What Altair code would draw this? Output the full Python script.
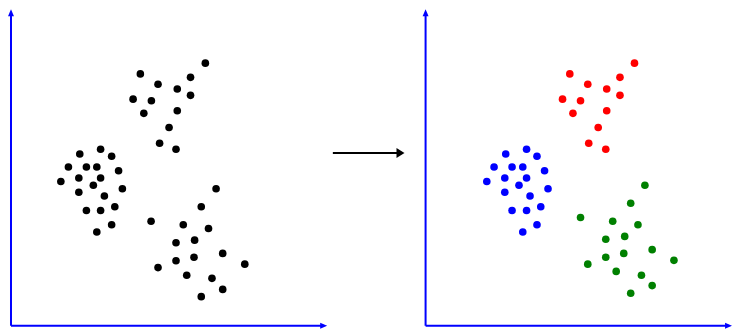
import altair as alt
import pandas as pd

# ---- values (units: axis origin = 0, axis length ~ 100) ----
# Left panel: unlabelled points, three visual groups
left_a_x = [61.6, 41.0, 56.9, 46.6, 52.7, 56.9, 38.7, 44.5, 42.1, 52.7, 50.1, 47.1, 52.3]
left_a_y = [83.2, 79.8, 78.7, 76.5, 75.0, 73.0, 71.8, 71.3, 67.3, 68.1, 62.8, 57.8, 55.9]
left_b_x = [21.8, 28.4, 31.9, 18.2, 23.9, 27.2, 34.1, 15.8, 21.5, 28.4, 26.1, 35.3, 21.5,
            29.6, 23.9, 28.4, 32.9, 31.9, 27.2]
left_b_y = [54.4, 55.9, 53.7, 50.3, 50.3, 50.3, 49.1, 45.7, 46.8, 46.8, 44.5, 43.4, 42.3,
            41.1, 36.5, 36.5, 37.7, 32.0, 29.7]
left_c_x = [65.0, 60.3, 44.4, 54.6, 62.6, 52.3, 58.2, 67.1, 52.3, 58.0, 74.1, 46.6, 55.7,
            63.7, 67.1, 60.3]
left_c_y = [43.4, 37.7, 33.1, 32.0, 30.8, 26.3, 27.1, 22.9, 20.6, 21.7, 19.5, 18.4, 16.0,
            15.0, 11.5, 9.2]

# Right panel: clustered points
red_x = [66.2, 45.7, 61.6, 51.4, 57.4, 61.6, 43.4, 49.1, 46.7, 57.4, 54.7, 51.7, 57.1]
red_y = [83.2, 79.8, 78.7, 76.5, 75.0, 73.0, 71.8, 71.3, 67.3, 68.1, 62.8, 57.8, 55.9]
blue_x = [25.4, 32.0, 35.3, 21.7, 27.4, 30.8, 37.7, 19.4, 25.1, 32.0, 29.6, 38.8, 25.1,
          33.1, 27.4, 32.0, 36.5, 35.3, 30.8]
blue_y = [54.4, 55.9, 53.7, 50.3, 50.3, 50.3, 49.1, 45.7, 46.8, 46.8, 44.5, 43.4, 42.3,
          41.1, 36.5, 36.5, 37.7, 32.0, 29.7]
green_x = [69.5, 65.0, 49.1, 59.3, 67.3, 57.1, 63.1, 71.8, 57.1, 62.8, 78.7, 51.4, 60.4,
           68.4, 71.8, 65.0]
green_y = [44.5, 38.8, 34.3, 33.1, 32.0, 27.4, 28.3, 24.1, 21.7, 22.9, 20.7, 19.5, 17.2,
           16.0, 12.7, 10.3]

cluster_names = ["red", "blue", "green"]
cluster_colors = ["#ff0000", "#0000ff", "#008000"]

AXIS = "#0000ff"
Y_DOM = [-1.3, 100.3]
UP = "M0,-1L0.85,1L-0.85,1Z"
RIGHT = "M1,0L-1,-0.85L-1,0.85Z"

left_df = pd.DataFrame({
    "x": left_a_x + left_b_x + left_c_x,
    "y": left_a_y + left_b_y + left_c_y,
})
right_df = pd.DataFrame({
    "x": red_x + blue_x + green_x,
    "y": red_y + blue_y + green_y,
    "group": ["red"] * len(red_x) + ["blue"] * len(blue_x) + ["green"] * len(green_x),
})
one = pd.DataFrame({"k": [0]})


def panel(df, x_dom, width, x_head, colour):
    xs = alt.Scale(domain=x_dom, nice=False, zero=False)
    ys = alt.Scale(domain=Y_DOM, nice=False, zero=False)
    pts = alt.Chart(df).mark_circle(size=58, opacity=1).encode(
        x=alt.X("x:Q", scale=xs, axis=None),
        y=alt.Y("y:Q", scale=ys, axis=None),
        color=colour,
    )
    x_axis = alt.Chart(one).mark_rule(color=AXIS, strokeWidth=2).encode(
        x=alt.XDatum(0, scale=xs, axis=None),
        x2=alt.X2Datum(x_head),
        y=alt.YDatum(0, scale=ys, axis=None),
    )
    y_axis = alt.Chart(one).mark_rule(color=AXIS, strokeWidth=2).encode(
        x=alt.XDatum(0, scale=xs, axis=None),
        y=alt.YDatum(0, scale=ys, axis=None),
        y2=alt.Y2Datum(99.2),
    )
    x_head_m = alt.Chart(one).mark_point(shape=RIGHT, filled=True, size=49, color=AXIS,
                                         opacity=1, strokeWidth=0).encode(
        x=alt.XDatum(x_head, scale=xs, axis=None),
        y=alt.YDatum(0, scale=ys, axis=None),
    )
    y_head_m = alt.Chart(one).mark_point(shape=UP, filled=True, size=49, color=AXIS,
                                         opacity=1, strokeWidth=0).encode(
        x=alt.XDatum(0, scale=xs, axis=None),
        y=alt.YDatum(99.2, scale=ys, axis=None),
    )
    return alt.layer(x_axis, y_axis, x_head_m, y_head_m, pts).properties(width=width, height=321)


left = panel(left_df, [-0.95, 100.65], 321, 99.1, alt.value("black"))
right = panel(
    right_df, [-1.0, 97.1], 310, 96.0,
    alt.Color("group:N", scale=alt.Scale(domain=cluster_names, range=cluster_colors), legend=None),
)

# middle arrow
mxs = alt.Scale(domain=[0, 29.75], nice=False, zero=False)
mys = alt.Scale(domain=Y_DOM, nice=False, zero=False)
m_line = alt.Chart(one).mark_rule(color="black", strokeWidth=2).encode(
    x=alt.XDatum(1.36, scale=mxs, axis=None),
    x2=alt.X2Datum(22.15),
    y=alt.YDatum(54.7, scale=mys, axis=None),
)
m_head = alt.Chart(one).mark_point(shape="M0.8,0L-0.8,-1L-0.8,1Z", filled=True, size=100,
                                   color="black", opacity=1, strokeWidth=0).encode(
    x=alt.XDatum(22.8, scale=mxs, axis=None),
    y=alt.YDatum(54.7, scale=mys, axis=None),
)
middle = alt.layer(m_line, m_head).properties(width=94, height=321)

chart = (
    alt.hconcat(left, middle, right, spacing=0)
    .properties(padding=0, background="white")
    .configure_view(stroke=None)
)

chart.save("out.html", embed_options={"renderer": "svg", "actions": False})
